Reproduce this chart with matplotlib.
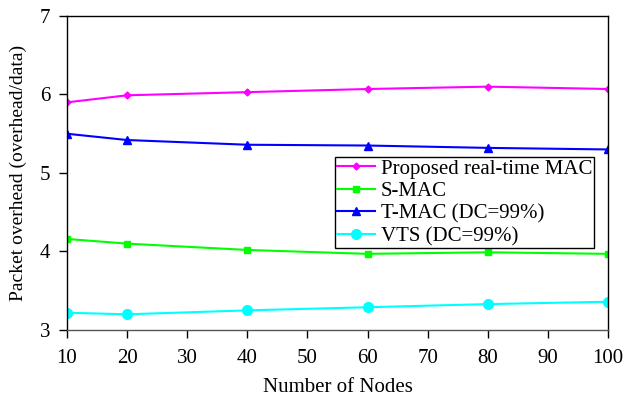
import matplotlib.pyplot as plt
import numpy as np

nodos = [10, 20, 40, 60, 80, 100]
propuesto = [5.90, 5.99, 6.03, 6.07, 6.10, 6.07]
smac = [4.16, 4.10, 4.02, 3.97, 3.99, 3.97]
tmac = [5.50, 5.42, 5.36, 5.35, 5.32, 5.30]
vts = [3.22, 3.20, 3.25, 3.29, 3.33, 3.36]

plt.rcParams['font.family'] = ['Liberation Serif', 'DejaVu Serif']

fig = plt.figure(figsize=(6.37, 4.04), dpi=100)
ax = fig.add_axes([67/637, 1-330/404, (608-67)/637, (330-16)/404])

ax.plot(nodos, propuesto, color="#FF00FF", marker="D", markersize=3.5, lw=1.5, label="Proposed real-time MAC")
ax.plot(nodos, smac, color="#00FF00", marker="s", markersize=5, lw=1.5, label="S-MAC")
ax.plot(nodos, tmac, color="#0000FF", marker="^", markersize=5.5, lw=1.5, label="T-MAC (DC=99%)")
ax.plot(nodos, vts, color="#00FFFF", marker="o", markersize=7, lw=1.5, label="VTS (DC=99%)")

ax.set_xlim(10, 100)
ax.set_ylim(3, 7)
ax.set_xticks(np.arange(10, 101, 10))
ax.set_yticks([3, 4, 5, 6, 7])
ax.tick_params(direction="out", length=6, width=1, labelsize=15)
ax.tick_params(axis="x", pad=8)
ax.tick_params(axis="y", pad=6)
for s in ax.spines.values():
    s.set_linewidth(1)
ax.spines["bottom"].set_color("#555555")

ax.set_xlabel("Number of Nodes", fontsize=15, labelpad=7)
ax.set_ylabel("Packet overhead (overhead/data)", fontsize=14, labelpad=9)

leg = ax.legend(loc="upper left", bbox_to_anchor=((335-67)/541, 1-(157-16)/314),
                fontsize=15, frameon=True, fancybox=False, edgecolor="black",
                framealpha=1, handlelength=1.8, handletextpad=0.3,
                borderpad=0.1, labelspacing=0.14, borderaxespad=0)
leg.get_frame().set_linewidth(1)

plt.savefig("out.png", dpi=100)
